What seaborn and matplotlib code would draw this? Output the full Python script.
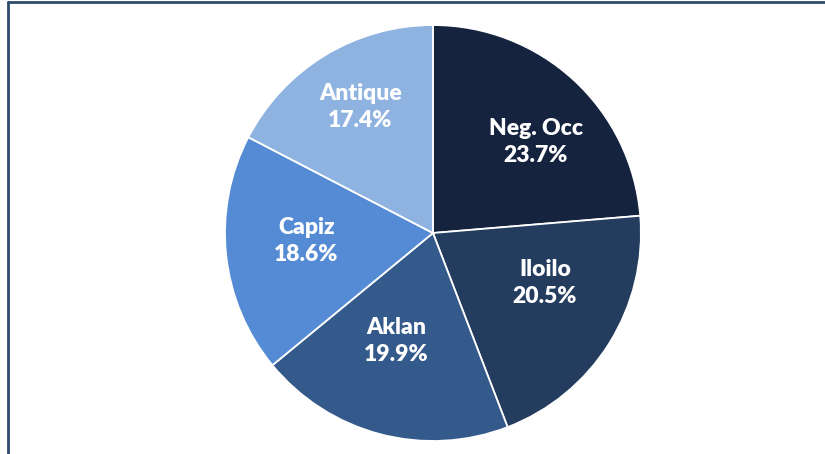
import numpy as np
import matplotlib
matplotlib.use("Agg")
import matplotlib.pyplot as plt
from matplotlib.lines import Line2D
import seaborn as sns

# data
regions = ["Neg. Occ", "Iloilo", "Aklan", "Capiz", "Antique"]
shares = [23.7, 20.5, 19.9, 18.6, 17.4]

# styling
colors = ["#15233f", "#243d5f", "#335a8a", "#558bd5", "#8fb3e1"]
label_radius = [0.66, 0.59, 0.55, 0.61, 0.70]
label_turn = [-6, 8, -4, -2.5, -1.3]  # degrees, nudges label around the wedge

sns.set_style("white")
plt.rcParams["font.family"] = ["Lato", "DejaVu Sans"]

fig = plt.figure(figsize=(8.25, 4.54), dpi=100)
ax = fig.add_axes([0.2727, 0.0286, 0.5042, 0.9163])

wedges, _ = ax.pie(shares, colors=colors, startangle=90, counterclock=False,
                   radius=1.0, wedgeprops=dict(edgecolor="white", linewidth=1.3))
ax.set_xlim(-1, 1)
ax.set_ylim(-1, 1)
ax.set_aspect("equal")

# labels placed at each wedge's mid angle
for w, name, val, r, t in zip(wedges, regions, shares, label_radius, label_turn):
    mid = np.deg2rad((w.theta1 + w.theta2) / 2 + t)
    ax.text(r * np.cos(mid), r * np.sin(mid), f"{name}\n{val:.1f}%",
            ha="center", va="center", color="white", fontsize=16.5,
            fontweight="heavy", linespacing=1.36)

# frame lines (left and top)
bc = "#2f4b6c"
fig.add_artist(Line2D([7.5 / 825, 7.5 / 825], [0, 1 - 2 / 454], color=bc, lw=2.0,
                      transform=fig.transFigure))
fig.add_artist(Line2D([7.5 / 825, 1], [1 - 2 / 454, 1 - 2 / 454], color=bc, lw=2.0,
                      transform=fig.transFigure))

fig.savefig("out.png", dpi=100)
